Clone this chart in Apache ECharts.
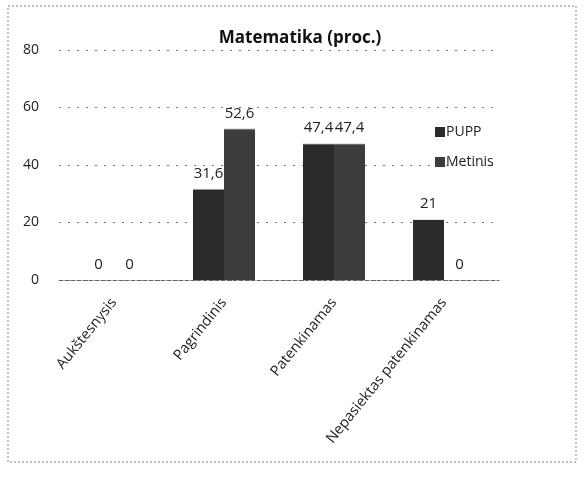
<!DOCTYPE html>
<html>
<head>
<meta charset="utf-8">
<script src="https://cdn.jsdelivr.net/npm/echarts@6/dist/echarts.min.js"></script>
<style>
  html, body { margin: 0; padding: 0; background: #fff; }
  #chart { width: 585px; height: 488px; }
</style>
</head>
<body>
<div id="chart"></div>
<script>
// duomenys
const categories = ["Aukštesnysis", "Pagrindinis", "Patenkinamas", "Nepasiektas patenkinamas"];
const puppValues = [0, 31.6, 47.4, 21];
const metinisValues = [0, 52.6, 47.4, 0];
const yTicks = [0, 20, 40, 60, 80];

const chart = echarts.init(document.getElementById("chart"));

// tamsus stulpelis su šviesesniu viršumi
const barColor = (base) => ({
  type: "linear", x: 0, y: 0, x2: 0, y2: 1,
  colorStops: [
    { offset: 0, color: "#9a9a9a" },
    { offset: 0.012, color: base },
    { offset: 1, color: base },
  ],
});

const fmt = (p) => String(p.value).replace(".", ",");

const option = {
  animation: false,
  textStyle: { fontFamily: "Open Sans, Noto Sans, sans-serif", color: "#222" },
  title: {
    text: "Matematika (proc.)",
    left: 295,
    top: 25,
    textAlign: "center",
    textStyle: { fontSize: 17, fontWeight: "bold", color: "#111" },
  },
  legend: {
    orient: "vertical",
    left: 430,
    top: 120,
    itemGap: 16,
    itemWidth: 10,
    itemHeight: 10,
    icon: "rect",
    textStyle: { fontSize: 14, color: "#222", padding: [0, 0, 0, -4] },
    data: ["PUPP", "Metinis"],
  },
  graphic: [
    {
      type: "rect",
      shape: { x: 8, y: 6, width: 568, height: 456 },
      style: { fill: "none", stroke: "#888", lineWidth: 1, lineDash: [2, 2] },
    },
  ],
  grid: { left: 59, right: 86, top: 50, bottom: 208 },
  xAxis: {
    type: "category",
    data: categories,
    axisTick: { show: false },
    axisLine: { lineStyle: { color: "#666", type: "dashed" } },
    axisLabel: { rotate: 51, fontSize: 14.5, color: "#222", margin: 20 },
  },
  yAxis: {
    type: "value",
    min: yTicks[0],
    max: yTicks[yTicks.length - 1],
    interval: 20,
    axisLabel: { fontSize: 14, color: "#222", margin: 20 },
    axisLine: { show: false },
    axisTick: { show: false },
    splitLine: { lineStyle: { color: "#777", type: [2, 7] } },
  },
  series: [
    {
      name: "PUPP",
      type: "bar",
      data: puppValues,
      barWidth: 31,
      barGap: "0%",
      itemStyle: { color: barColor("#2b2b2b") },
      label: { show: true, position: "top", fontSize: 15, color: "#222", formatter: fmt, distance: 8 },
    },
    {
      name: "Metinis",
      type: "bar",
      data: metinisValues,
      barWidth: 31,
      itemStyle: { color: barColor("#3c3c3c") },
      label: { show: true, position: "top", fontSize: 15, color: "#222", formatter: fmt, distance: 8 },
    },
  ],
};

chart.setOption(option);
</script>
</body>
</html>
